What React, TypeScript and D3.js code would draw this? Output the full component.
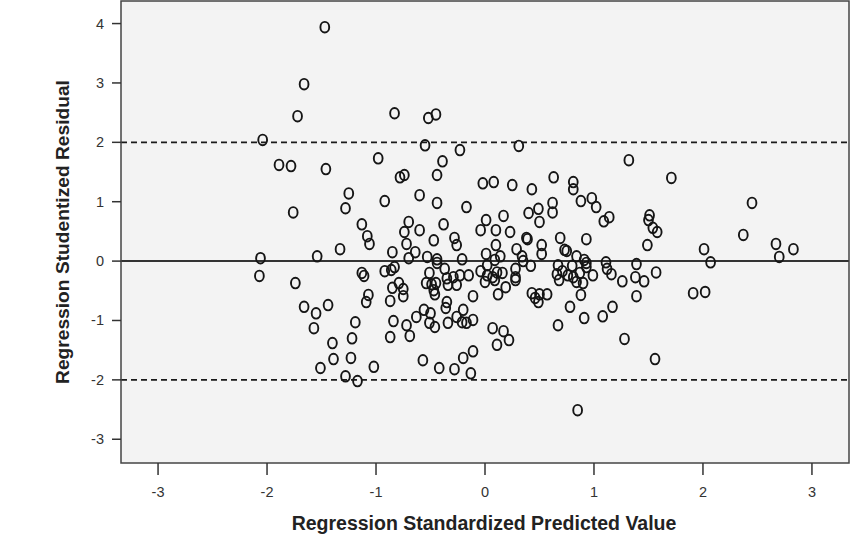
import * as d3 from 'd3';

// Regression standardized predicted value (x) and studentized residual (y)
const predicted = [
  -1.47, -1.66, -1.72, -2.04, -1.89, -1.78, -1.46, -0.83, -0.52, -0.45,
  -0.55, -0.98, -0.78, -0.74, -0.44, -0.39, -0.23, 0.31, 1.32, -0.02,
  0.08, 0.25, 0.43, 0.63, 0.81, 0.81, -1.25, -0.92, -0.6, -0.44,
  -1.76, -1.28, -1.13, -1.08, -1.06, -0.7, -0.74, -0.6, -0.47, -0.72,
  -0.64, -0.85, -0.7, -0.53, -0.44, -0.44, -1.33, -1.54, -2.06, -2.07,
  -1.74, -1.13, -1.11, -0.92, -0.86, -0.83, -0.51, -0.79, -0.85, -0.54,
  -0.49, -0.45, -0.75, -0.75, -0.87, -0.47, -0.46, -1.07, -1.09, -1.66,
  -1.55, -1.44, -1.57, -1.19, -0.84, -0.72, -0.63, -0.56, -0.5, -0.51,
  -0.46, -1.4, -1.22, -0.87, -0.69, -1.39, -1.23, -1.51, -1.02, -1.28,
  -1.17, -0.57, -0.42, -0.17, 0.88, 0.98, 1.02, 0.62, 0.62, 0.4,
  0.49, 0.5, 1.09, 1.14, 0.17, 0.01, -0.04, 0.1, 0.23, -0.38,
  -0.28, -0.26, 0.38, 0.39, 0.52, 0.52, 0.69, 0.93, 0.1, 0.29,
  0.34, 0.35, 0.01, 0.14, 0.09, 0.73, 0.75, 0.84, 0.91, 0.93,
  0.93, -0.21, 1.11, 1.12, 1.16, 1.39, 1.38, 1.26, -0.37, -0.35,
  -0.29, -0.23, -0.15, -0.04, 0.02, 0.02, 0.07, 0.11, 0.16, 0.28,
  0.28, 0.42, 0.67, 0.66, 0.71, 0.76, 0.8, 0.81, 0.87, 0.9,
  0.99, -0.34, -0.26, 0.0, 0.09, 0.19, 0.28, -0.11, 0.12, 0.43,
  0.46, 0.49, 0.5, 0.57, 0.68, 0.84, 0.88, 1.39, 0.78, 1.17,
  1.08, 0.91, 0.67, -0.35, -0.36, -0.34, -0.26, -0.2, -0.21, -0.17,
  -0.11, 0.07, 0.17, 0.22, 0.11, -0.11, -0.2, -0.28, -0.13, 1.28,
  0.85, 1.71, 2.45, 1.51, 1.5, 1.54, 1.58, 1.49, 2.37, 2.67,
  2.7, 2.83, 2.01, 2.07, 1.46, 1.57, 1.91, 2.02, 1.56,
];

const residual = [
  3.94, 2.98, 2.44, 2.04, 1.62, 1.6, 1.55, 2.49, 2.41, 2.47,
  1.95, 1.73, 1.41, 1.45, 1.45, 1.68, 1.87, 1.94, 1.7, 1.31,
  1.33, 1.28, 1.21, 1.41, 1.33, 1.21, 1.14, 1.01, 1.11, 0.98,
  0.82, 0.89, 0.62, 0.42, 0.29, 0.66, 0.49, 0.52, 0.35, 0.29,
  0.15, 0.15, 0.05, 0.07, 0.03, -0.03, 0.2, 0.08, 0.05, -0.25,
  -0.37, -0.2, -0.25, -0.17, -0.15, -0.1, -0.2, -0.37, -0.45, -0.37,
  -0.39, -0.37, -0.47, -0.59, -0.67, -0.49, -0.56, -0.57, -0.69, -0.77,
  -0.88, -0.74, -1.13, -1.03, -1.01, -1.08, -0.94, -0.82, -0.88, -1.04,
  -1.11, -1.38, -1.3, -1.28, -1.26, -1.65, -1.63, -1.8, -1.78, -1.94,
  -2.02, -1.67, -1.8, 0.91, 1.01, 1.06, 0.91, 0.98, 0.82, 0.81,
  0.88, 0.66, 0.67, 0.74, 0.76, 0.69, 0.52, 0.52, 0.49, 0.62,
  0.39, 0.27, 0.39, 0.37, 0.27, 0.12, 0.39, 0.37, 0.27, 0.2,
  0.08, 0.0, 0.12, 0.08, 0.02, 0.19, 0.17, 0.08, 0.02, -0.03,
  -0.1, 0.03, -0.02, -0.13, -0.22, -0.05, -0.27, -0.34, -0.13, -0.29,
  -0.27, -0.24, -0.24, -0.17, -0.07, -0.24, -0.27, -0.19, -0.2, -0.13,
  -0.27, -0.08, -0.07, -0.22, -0.17, -0.24, -0.08, -0.27, -0.2, -0.37,
  -0.24, -0.4, -0.4, -0.35, -0.32, -0.44, -0.32, -0.59, -0.56, -0.54,
  -0.62, -0.69, -0.56, -0.56, -0.32, -0.35, -0.57, -0.59, -0.77, -0.77,
  -0.93, -0.96, -1.08, -0.69, -0.79, -1.04, -0.94, -0.82, -1.03, -1.04,
  -0.99, -1.13, -1.18, -1.33, -1.41, -1.52, -1.63, -1.82, -1.89, -1.31,
  -2.51, 1.4, 0.98, 0.77, 0.69, 0.56, 0.49, 0.27, 0.44, 0.29,
  0.07, 0.2, 0.2, -0.02, -0.34, -0.19, -0.54, -0.52, -1.65,
];

const xTicks = [-3, -2, -1, 0, 1, 2, 3];
const yTicks = [-3, -2, -1, 0, 1, 2, 3, 4];
const refLines = [-2, 2];

const W = 850;
const H = 536;
const plot = { left: 121, right: 849, top: 1, bottom: 463 };
const font = '"Liberation Sans", Arial, Helvetica, sans-serif';

export default function App() {
  const x = d3.scaleLinear().domain([-3.34, 3.34]).range([plot.left, plot.right]);
  const y = d3.scaleLinear().domain([-3.4, 4.38]).range([plot.bottom, plot.top]);
  const points = d3.zip(predicted, residual);

  return (
    <div style={{ position: 'absolute', left: 0, top: 0 }}>
      <svg width={W} height={H} style={{ display: 'block', background: '#fff' }}>
        <rect
          x={plot.left}
          y={plot.top}
          width={plot.right - plot.left}
          height={plot.bottom - plot.top}
          fill="#f3f3f3"
        />

        {refLines.map(v => (
          <line
            key={v}
            x1={plot.left} x2={plot.right}
            y1={y(v)} y2={y(v)}
            stroke="#1a1a1a"
            strokeWidth={1.6}
            strokeDasharray="6,4"
          />
        ))}
        <line
          x1={plot.left} x2={plot.right}
          y1={y(0)} y2={y(0)}
          stroke="#333"
          strokeWidth={2}
        />

        {points.map(([px, py], i) => (
          <ellipse
            key={i}
            cx={x(px)}
            cy={y(py)}
            rx={4.4}
            ry={5.3}
            fill="none"
            stroke="#151515"
            strokeWidth={1.9}
          />
        ))}

        <rect
          x={plot.left}
          y={plot.top}
          width={plot.right - plot.left}
          height={plot.bottom - plot.top}
          fill="none"
          stroke="#444"
          strokeWidth={1.5}
        />

        {/* x axis */}
        {xTicks.map(t => (
          <g key={t}>
            <line x1={x(t)} x2={x(t)} y1={plot.bottom} y2={plot.bottom + 12} stroke="#333" strokeWidth={1.5} />
            <text x={x(t)} y={497} textAnchor="middle" fontFamily={font} fontSize={14.5} fill="#333">
              {t}
            </text>
          </g>
        ))}

        {/* y axis */}
        {yTicks.map(t => (
          <g key={t}>
            <line x1={plot.left - 9} x2={plot.left} y1={y(t)} y2={y(t)} stroke="#333" strokeWidth={1.5} />
            <text x={104} y={y(t) + 5} textAnchor="end" fontFamily={font} fontSize={14.5} fill="#333">
              {t}
            </text>
          </g>
        ))}

        <text x={484} y={530} textAnchor="middle" fontFamily={font} fontSize={19.5} fontWeight="bold" fill="#222">
          Regression Standardized Predicted Value
        </text>
        <text
          transform={`translate(69,232) rotate(-90)`}
          textAnchor="middle"
          fontFamily={font}
          fontSize={19.2}
          fontWeight="bold"
          fill="#222"
        >
          Regression Studentized Residual
        </text>
      </svg>
    </div>
  );
}
